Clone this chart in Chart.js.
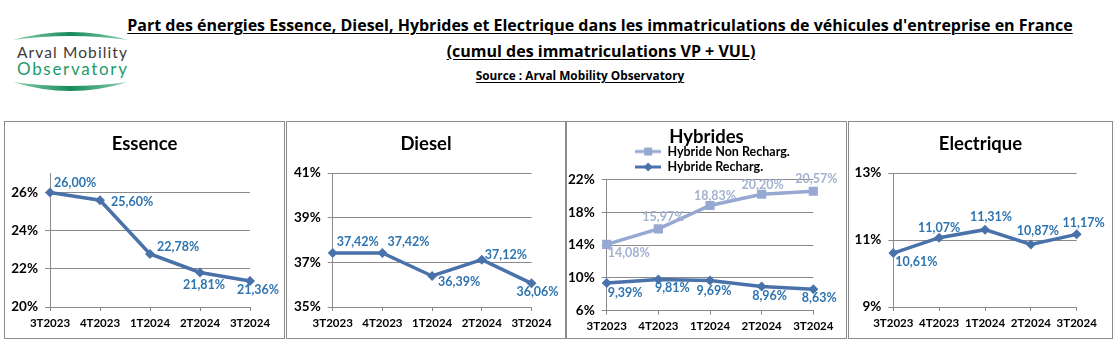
<!DOCTYPE html>
<html lang="fr">
<head>
<meta charset="utf-8">
<title>Part des énergies - immatriculations véhicules d'entreprise</title>
<script src="https://cdn.jsdelivr.net/npm/chart.js@4.4.1/dist/chart.umd.min.js"></script>
<style>
  body { margin: 0; background: #fff; width: 1117px; height: 345px; overflow: hidden; position: relative; font-family: Lato, "DejaVu Sans", sans-serif; }
  .head { position: absolute; left: 0; text-align: center; font-family: "Open Sans", Lato, sans-serif; font-weight: bold; color: #000; white-space: nowrap; }
  .head span { text-decoration: underline; text-decoration-thickness: 1px; text-underline-offset: 2px; }
  .panel { position: absolute; top: 121px; height: 216px; border: 1px solid #8c8c8c; }
  .panel canvas { display: block; }
</style>
</head>
<body>

<svg width="140" height="100" style="position:absolute;left:0;top:0">
  <defs>
    <linearGradient id="arc" x1="0" x2="1" y1="0" y2="0">
      <stop offset="0" stop-color="#8fd0b0"/>
      <stop offset="0.5" stop-color="#168a58"/>
      <stop offset="1" stop-color="#8fd0b0"/>
    </linearGradient>
  </defs>
  <path d="M13 40 Q70 24 128 40 Q70 32 13 40 Z" fill="url(#arc)"/>
  <text x="17" y="58" textLength="110" font-family="Lato, sans-serif" font-size="15.5" fill="#3a3a3a">Arval Mobility</text>
  <text x="17" y="75" textLength="110" font-family="Lato, sans-serif" font-size="17" fill="#1f9a68">Observatory</text>
  <path d="M13 82 Q70 100 128 82 Q70 90 13 82 Z" fill="url(#arc)"/>
</svg>

<div class="head" style="top:15px;font-size:16px;line-height:20px;width:1200px">
  <span>Part des énergies Essence, Diesel, Hybrides et Electrique dans les immatriculations de véhicules d'entreprise en France</span>
</div>
<div class="head" style="top:41px;font-size:16px;line-height:20px;width:1202px">
  <span>(cumul des immatriculations VP + VUL)</span>
</div>
<div class="head" style="top:68px;font-size:11.8px;line-height:15px;width:1160px">
  <span>Source : Arval Mobility Observatory</span>
</div>

<div class="panel" style="left:4px;width:279px"><canvas id="essence" width="279" height="216"></canvas></div>
<div class="panel" style="left:286px;width:278px"><canvas id="diesel" width="278" height="216"></canvas></div>
<div class="panel" style="left:566px;width:279px"><canvas id="hybrides" width="279" height="216"></canvas></div>
<div class="panel" style="left:848px;width:263px"><canvas id="electrique" width="263" height="216"></canvas></div>

<script>
// quarters and shares (%)
const quarters = ['3T2023', '4T2023', '1T2024', '2T2024', '3T2024'];
const essence = [26.00, 25.60, 22.78, 21.81, 21.36];
const diesel = [37.42, 37.42, 36.39, 37.12, 36.06];
const hybrideNonRecharg = [14.08, 15.97, 18.83, 20.20, 20.57];
const hybrideRecharg = [9.39, 9.81, 9.69, 8.96, 8.63];
const electrique = [10.61, 11.07, 11.31, 10.87, 11.17];

// y axes: [min, max, step]
const essenceAxis = [20, 27, 2];
const dieselAxis = [35, 41, 2];
const hybridesAxis = [6, 22, 4];
const electriqueAxis = [9, 13, 2];

const FONT = 'Lato, "DejaVu Sans", sans-serif';
const darkBlue = '#4a72aa';
const lightBlue = '#97a9d2';
const darkLabel = '#2e74b0';
const lightLabel = '#a3b2cf';
const gridColor = '#8a8a8a';

Chart.defaults.font.family = FONT;
Chart.defaults.color = '#000';

const frNumber = v => v.toFixed(2).replace('.', ',') + '%';

// value labels next to each point, placement = [align, dx, dy]
const pointLabels = {
  id: 'pointLabels',
  afterDatasetsDraw(chart, args, opts) {
    const ctx = chart.ctx;
    chart.data.datasets.forEach((ds, di) => {
      const meta = chart.getDatasetMeta(di);
      const place = opts.places[di];
      ctx.save();
      ctx.font = 'bold 12.5px ' + FONT;
      ctx.fillStyle = opts.colors[di];
      ctx.textBaseline = 'middle';
      meta.data.forEach((pt, i) => {
        const [align, dx, dy] = place[i];
        ctx.textAlign = align;
        ctx.fillText(frNumber(ds.data[i]), pt.x + dx, pt.y + dy);
      });
      ctx.restore();
    });
  }
};

// legend tweaks: trim the extra space under it, stack the rows in one column
const legendColumn = {
  id: 'legendColumn',
  beforeLayout(chart, args, opts) {
    const lg = chart.legend;
    if (lg && !lg._trimmed && opts.trim) {
      const fit = lg.fit.bind(lg);
      lg.fit = () => {
        fit();
        lg.height = Math.max(lg.height - opts.trim, 0);
      };
      lg._trimmed = true;
    }
  },
  afterLayout(chart, args, opts) {
    const lg = chart.legend;
    if (lg && lg.options.display && lg.lineWidths && lg.lineWidths.length > 1) {
      const w = Math.max(...lg.lineWidths);
      lg.lineWidths = lg.lineWidths.map(() => w);
      lg.left += opts.shift || 0;
      lg.right += opts.shift || 0;
    }
  }
};

// small line + marker symbol for the legend
const legendMarker = (color, style) => {
  const c = document.createElement('canvas');
  c.width = 26;
  c.height = 10;
  const g = c.getContext('2d');
  g.strokeStyle = color;
  g.fillStyle = color;
  g.lineWidth = 3;
  g.beginPath();
  g.moveTo(0, 5);
  g.lineTo(26, 5);
  g.stroke();
  g.beginPath();
  if (style === 'rect') {
    g.rect(9, 1, 8, 8);
  } else {
    g.moveTo(13, 0.5); g.lineTo(17.5, 5); g.lineTo(13, 9.5); g.lineTo(8.5, 5);
    g.closePath();
  }
  g.fill();
  return c;
};

const series = (label, data, color, pointStyle, radius) => ({
  label: label,
  data: data,
  borderColor: color,
  backgroundColor: color,
  borderWidth: 3.5,
  pointStyle: pointStyle,
  pointRadius: radius,
  pointBorderWidth: 0,
  tension: 0,
  fill: false
});

// yWidth = room left of the plot, gapRight = room right of the last point
const makePanel = (id, cfg) => {
  const [min, max, step] = cfg.axis;
  return new Chart(document.getElementById(id), {
    type: 'line',
    data: { labels: quarters, datasets: cfg.datasets },
    options: {
      responsive: false,
      animation: false,
      events: [],
      layout: { padding: 0 },
      plugins: {
        title: {
          display: true,
          text: cfg.title,
          font: { size: 18.5, weight: 'bold', lineHeight: 1 },
          color: '#000',
          padding: cfg.titlePad
        },
        legend: cfg.legend || { display: false },
        tooltip: { enabled: false },
        pointLabels: { places: cfg.places, colors: cfg.labelColors },
        legendColumn: { trim: 3.7, shift: 6 }
      },
      scales: {
        x: {
          grid: { drawOnChartArea: false, color: gridColor, tickLength: 4 },
          border: { color: gridColor },
          ticks: { font: { size: 11.5, weight: 'bold' }, padding: 5, maxRotation: 0, autoSkip: false },
          afterFit: s => {
            s.height = cfg.xHeight;
            s.paddingRight = cfg.gapRight;
          }
        },
        y: {
          min: min,
          max: max,
          grid: { color: gridColor, tickLength: 5 },
          border: { color: gridColor },
          ticks: {
            stepSize: step,
            includeBounds: false,
            padding: 7,
            font: { size: 13.5, weight: 'bold' },
            callback: v => v + '%'
          },
          afterFit: s => { s.width = cfg.yWidth; }
        }
      }
    },
    plugins: [pointLabels, legendColumn]
  });
};

makePanel('essence', {
  title: 'Essence',
  axis: essenceAxis,
  yWidth: 45, gapRight: 34, xHeight: 31,
  titlePad: { top: 12.5, bottom: 20.5 },
  datasets: [series('Essence', essence, darkBlue, 'rectRot', 5)],
  labelColors: [darkLabel],
  places: [[['left', 4, -10], ['left', 11, 2], ['left', 7, -7], ['center', 4, 12], ['center', 8, 9]]]
});

makePanel('diesel', {
  title: 'Diesel',
  axis: dieselAxis,
  yWidth: 45.7, gapRight: 33.5, xHeight: 31,
  titlePad: { top: 12.8, bottom: 19.8 },
  datasets: [series('Diesel', diesel, darkBlue, 'rectRot', 5)],
  labelColors: [darkLabel],
  places: [[['left', 4, -11], ['left', 5, -11], ['left', 6, 6], ['left', 3, -5], ['center', 6, 9]]]
});

const hybridMarkers = [legendMarker(lightBlue, 'rect'), legendMarker(darkBlue, 'diamond')];

makePanel('hybrides', {
  title: 'Hybrides',
  axis: hybridesAxis,
  yWidth: 39.7, gapRight: 32.7, xHeight: 27.3,
  titlePad: { top: 6.2, bottom: -4.3 },
  legend: {
    display: true,
    position: 'top',
    labels: {
      usePointStyle: true,
      pointStyleWidth: 26,
      padding: 2.9,
      font: { size: 12.5, weight: 'bold' },
      color: '#000',
      generateLabels: chart => Chart.defaults.plugins.legend.labels.generateLabels(chart)
        .map((item, i) => Object.assign(item, { pointStyle: hybridMarkers[i] }))
    }
  },
  datasets: [
    series('Hybride Non Recharg.', hybrideNonRecharg, lightBlue, 'rect', 6.5),
    series('Hybride Recharg.', hybrideRecharg, darkBlue, 'rectRot', 5)
  ],
  labelColors: [lightLabel, darkLabel],
  places: [
    [['left', 1, 9], ['center', 5, -12], ['center', 5, -10], ['center', 1, -9], ['center', 3, -12]],
    [['left', 1, 10], ['center', 14, 9], ['center', 4, 11], ['center', 8, 10], ['center', 6, 9]]
  ]
});

makePanel('electrique', {
  title: 'Electrique',
  axis: electriqueAxis,
  yWidth: 44.3, gapRight: 35.3, xHeight: 31,
  titlePad: { top: 12.8, bottom: 19.8 },
  datasets: [series('Electrique', electrique, darkBlue, 'rectRot', 5)],
  labelColors: [darkLabel],
  places: [[['left', 2, 9], ['center', 0, -10], ['center', 6, -13], ['center', 7, -13], ['center', 7, -11]]]
});
</script>
</body>
</html>
